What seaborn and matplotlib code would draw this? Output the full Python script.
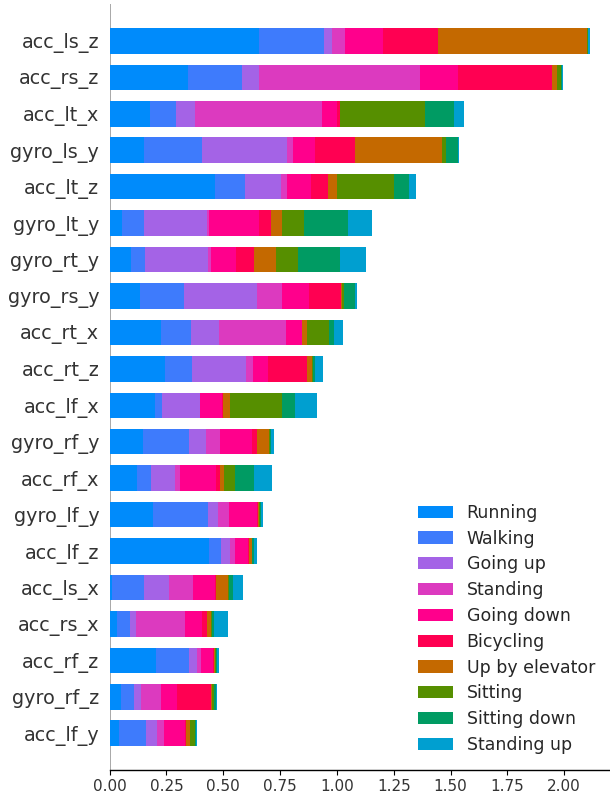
import numpy as np
import pandas as pd
import matplotlib
matplotlib.use("Agg")
import matplotlib.pyplot as plt
from matplotlib.patches import Patch
import seaborn as sns

# Features, ordered by total mean |SHAP value| (largest first)
features = [
    "acc_ls_z", "acc_rs_z", "acc_lt_x", "gyro_ls_y", "acc_lt_z",
    "gyro_lt_y", "gyro_rt_y", "gyro_rs_y", "acc_rt_x", "acc_rt_z",
    "acc_lf_x", "gyro_rf_y", "acc_rf_x", "gyro_lf_y", "acc_lf_z",
    "acc_ls_x", "acc_rs_x", "acc_rf_z", "gyro_rf_z", "acc_lf_y",
]

classes = [
    "Running", "Walking", "Going up", "Standing", "Going down",
    "Bicycling", "Up by elevator", "Sitting", "Sitting down", "Standing up",
]

class_colors = [
    "#008bfb", "#3e7bfc", "#a463e6", "#dc3abf", "#ff008c",
    "#ff0052", "#c46900", "#568f00", "#009b63", "#009fd0",
]

# Mean |SHAP value| per class, one list per class, in feature order
running = [0.657, 0.344, 0.177, 0.151, 0.463, 0.054, 0.094, 0.133, 0.226, 0.243,
           0.199, 0.147, 0.120, 0.190, 0.437, 0.010, 0.032, 0.204, 0.050, 0.041]
walking = [0.286, 0.238, 0.114, 0.255, 0.132, 0.097, 0.062, 0.194, 0.132, 0.119,
           0.031, 0.202, 0.062, 0.242, 0.053, 0.141, 0.057, 0.145, 0.057, 0.119]
going_up = [0.035, 0.075, 0.084, 0.374, 0.158, 0.277, 0.277, 0.321, 0.123, 0.238,
            0.166, 0.075, 0.106, 0.044, 0.040, 0.110, 0.026, 0.035, 0.031, 0.048]
standing = [0.057, 0.708, 0.559, 0.026, 0.026, 0.009, 0.013, 0.110, 0.295, 0.031,
            0.002, 0.062, 0.022, 0.048, 0.022, 0.106, 0.216, 0.018, 0.088, 0.031]
going_down = [0.169, 0.167, 0.066, 0.097, 0.106, 0.220, 0.110, 0.119, 0.070, 0.066,
              0.098, 0.141, 0.158, 0.123, 0.057, 0.097, 0.075, 0.053, 0.070, 0.092]
bicycling = [0.241, 0.412, 0.013, 0.176, 0.075, 0.053, 0.079, 0.141, 0.002, 0.172,
             0.002, 0.022, 0.018, 0.004, 0.002, 0.002, 0.022, 0.004, 0.150, 0.004]
up_by_elevator = [0.657, 0.023, 0.001, 0.383, 0.040, 0.048, 0.097, 0.004, 0.018, 0.022,
                  0.031, 0.053, 0.018, 0.008, 0.013, 0.053, 0.018, 0.004, 0.004, 0.018]
sitting = [0.002, 0.018, 0.374, 0.018, 0.249, 0.095, 0.097, 0.009, 0.101, 0.005,
           0.229, 0.004, 0.048, 0.004, 0.004, 0.004, 0.004, 0.004, 0.009, 0.022]
sitting_down = [0.002, 0.003, 0.128, 0.053, 0.067, 0.195, 0.185, 0.048, 0.018, 0.009,
                0.057, 0.004, 0.084, 0.004, 0.009, 0.018, 0.009, 0.004, 0.009, 0.004]
standing_up = [0.007, 0.006, 0.044, 0.004, 0.031, 0.106, 0.114, 0.009, 0.040, 0.035,
               0.097, 0.013, 0.079, 0.009, 0.009, 0.044, 0.062, 0.009, 0.004, 0.004]

values = [running, walking, going_up, standing, going_down,
          bicycling, up_by_elevator, sitting, sitting_down, standing_up]

sns.set_style("white")
plt.rcParams["font.family"] = ["DejaVu Sans"]

fig = plt.figure(figsize=(6.10, 7.98), dpi=100)
ax = fig.add_axes([0.1798, 0.0355, 0.8197, 0.9589])

# Stack the classes: draw running totals from the outermost class inward
cum = np.cumsum(np.array(values, dtype=float), axis=0)
for k in range(len(classes) - 1, -1, -1):
    df = pd.DataFrame({"feature": features, "value": cum[k]})
    sns.barplot(data=df, x="value", y="feature", order=features, orient="y",
                color=class_colors[k], saturation=1, width=0.7,
                linewidth=0, edgecolor="none", ax=ax, zorder=2)

ax.axvline(0, color="#999999", linewidth=1.2, zorder=1)

ax.set_ylim(len(features), -1)
ax.set_xlim(0, 2.2)
ax.set_xlabel("")
ax.set_ylabel("")

for side in ("top", "right", "left"):
    ax.spines[side].set_visible(False)
ax.spines["bottom"].set_color("#000000")
ax.spines["bottom"].set_linewidth(1.0)

ax.set_xticks([0.0, 0.25, 0.5, 0.75, 1.0, 1.25, 1.5, 1.75, 2.0])
ax.set_xticklabels(["0.00", "0.25", "0.50", "0.75", "1.00", "1.25", "1.50", "1.75", "2.00"])
ax.tick_params(axis="x", labelsize=11, labelcolor="#333333", color="#000000",
               length=3.5, width=0.8, direction="out", bottom=True)
ax.tick_params(axis="y", labelsize=13.8, labelcolor="#333333", length=0, pad=7.5)

handles = [Patch(facecolor=c, edgecolor="none", label=lab)
           for c, lab in zip(class_colors, classes)]
ax.legend(handles=handles, loc="lower right", frameon=False, fontsize=12.5,
          labelspacing=0.45, bbox_to_anchor=(1.002, 0.0))

fig.savefig("out.png", dpi=100)
